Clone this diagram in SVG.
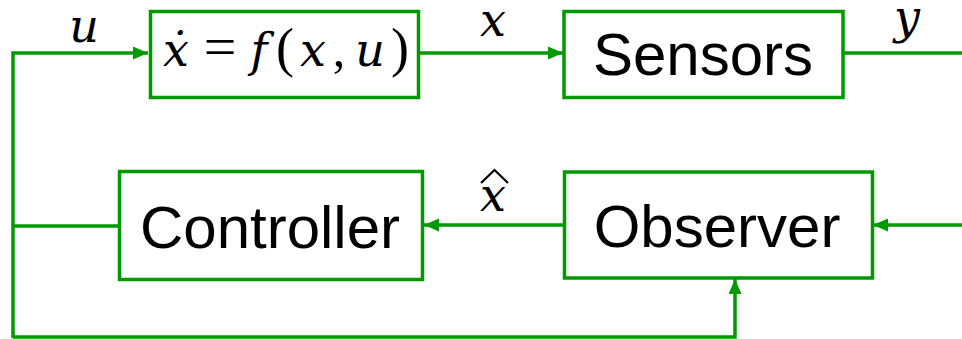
<svg xmlns="http://www.w3.org/2000/svg" width="962" height="339" viewBox="0 0 962 339">
<style>
.box{fill:#fff;stroke:#009a00;stroke-width:3.5}
.ln{fill:none;stroke:#009a00;stroke-width:3.5}
.lbl{font-family:"Liberation Sans",Arial,sans-serif;font-size:60px;fill:#000;text-anchor:middle}
.m{font-family:"DejaVu Serif","Liberation Serif",serif;font-style:italic;fill:#000;text-anchor:middle}
.n{font-style:normal;font-family:"Liberation Serif","DejaVu Serif",serif}
</style>
<defs>
<marker id="ah" viewBox="0 0 15 13" refX="15" refY="6.5" markerWidth="15" markerHeight="13" markerUnits="userSpaceOnUse" orient="auto">
<path d="M0,0 L15,6.5 L0,13 z" fill="#009a00"/>
</marker>
</defs>
<g id="connectors">
<path class="ln" d="M13,338 L13,53 L148,53" marker-end="url(#ah)"/>
<path class="ln" d="M420,53 L563,53" marker-end="url(#ah)"/>
<path class="ln" d="M843,53 L962,53"/>
<path class="ln" d="M962,225 L873,225" marker-end="url(#ah)"/>
<path class="ln" d="M563,225 L424,225" marker-end="url(#ah)"/>
<path class="ln" d="M119,226 L13,226"/>
<path class="ln" d="M13,337 L735,337 L735,279" marker-end="url(#ah)"/>
<text class="m" x="84" y="42" font-size="46">u</text>
<text class="m" x="493" y="36" font-size="46">x</text>
<text class="m" x="907" y="33" font-size="46">y</text>
<text class="m" x="493" y="211" font-size="46">x</text>
<path d="M481,183 L494.5,170 L508,183" fill="none" stroke="#000" stroke-width="2.2"/>
</g>
<g id="plant">
<rect class="box" x="150.5" y="11.5" width="268" height="86"/>
<text class="m" y="66" font-size="46"><tspan x="176">ẋ</tspan><tspan class="n" x="220" font-size="58">=</tspan><tspan x="259">f</tspan><tspan class="n" x="285" font-size="54">(</tspan><tspan x="313">x</tspan><tspan class="n" x="339" font-size="50">,</tspan><tspan x="370">u</tspan><tspan class="n" x="400" font-size="54">)</tspan></text>
</g>
<g id="sensors">
<rect class="box" x="564" y="11.5" width="279" height="86"/>
<text class="lbl" x="703" y="75">Sensors</text>
</g>
<g id="controller">
<rect class="box" x="119.5" y="171.5" width="303" height="108"/>
<text class="lbl" x="270" y="248">Controller</text>
</g>
<g id="observer">
<rect class="box" x="564.5" y="172" width="308" height="106"/>
<text class="lbl" x="717" y="247">Observer</text>
</g>
</svg>
